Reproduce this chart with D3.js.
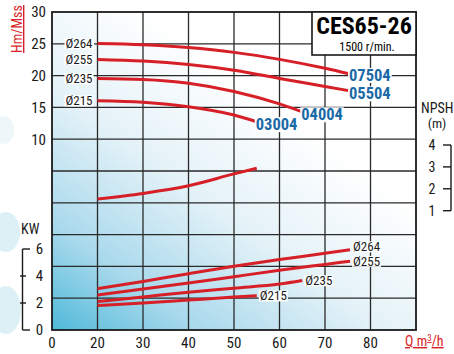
<!DOCTYPE html>
<html><head><meta charset="utf-8">
<script src="https://cdn.jsdelivr.net/npm/d3@7/dist/d3.min.js"></script>
<style>
html,body{margin:0;padding:0;background:#fff;}
svg{display:block;}
</style></head>
<body>
<svg id="chart" width="454" height="354"></svg>
<script>
// ---------- data ----------
const qTickValues = [10, 20, 30, 40, 50, 60, 70, 80];
const qTickLabels = ["0", "20", "30", "40", "50", "60", "70", "80"];
const headTicks = [10, 15, 20, 25, 30];
const kwTicks = [0, 2, 4, 6];
const npshTicks = [1, 2, 3, 4];
const diameters = ["Ø264", "Ø255", "Ø235", "Ø215"];
const models = ["07504", "05504", "04004", "03004"];

// head curves [Q m3/h, H m]
const head264 = [[20,25.05],[30,24.85],[40,24.4],[50,23.65],[60,22.55],[70,21.15],[75.5,20.25]];
const head255 = [[20,22.55],[30,22.3],[40,21.75],[50,20.85],[60,19.55],[70,18.3],[75.5,17.6]];
const head235 = [[20,19.55],[30,19.4],[40,18.8],[50,17.5],[60,15.55],[65,14.3]];
const head215 = [[20,16.05],[30,15.8],[40,15.1],[50,13.8],[55,12.75]];
// NPSH curve [Q, m]
const npsh = [[20,1.53],[30,1.79],[40,2.14],[50,2.68],[55,2.94]];
// power curves [Q, kW]
const power264 = [[20,3.06],[30,3.6],[40,4.17],[50,4.72],[60,5.22],[70,5.68],[75.5,5.95]];
const power255 = [[20,2.59],[30,3.03],[40,3.48],[50,3.95],[60,4.42],[70,4.86],[75.5,5.1]];
const power235 = [[20,2.11],[30,2.45],[40,2.8],[50,3.1],[60,3.4],[65,3.66]];
const power215 = [[20,1.81],[30,2.0],[40,2.22],[50,2.44],[55,2.54]];

const title = "CES65-26";
const subtitle = "1500 r/min.";

// ---------- drawing ----------
const FONT = "'Liberation Sans Narrow','Arial Narrow','Roboto Condensed','DejaVu Sans Condensed','Liberation Sans',sans-serif";
const RED = "#d71f27", BLUE = "#1b6aa6", INK = "#1a1a1a";
const svg = d3.select("#chart");

const x = d3.scaleLinear().domain([10, 90]).range([52, 416]);
const yH = d3.scaleLinear().domain([-20, 30]).range([330, 12]);
const yP = d3.scaleLinear().domain([0, 6]).range([330, 249]);
const yN = d3.scaleLinear().domain([1, 4]).range([210.7, 145]);

const [L, R] = x.range();
const [B, T] = yH.range();

const defs = svg.append("defs");
const grad = defs.append("linearGradient").attr("id", "bg")
  .attr("x1", 0).attr("y1", 1).attr("x2", 0.75).attr("y2", 0.1);
grad.append("stop").attr("offset", 0).attr("stop-color", "#4fb9d9");
grad.append("stop").attr("offset", 0.22).attr("stop-color", "#a9d9ec");
grad.append("stop").attr("offset", 0.5).attr("stop-color", "#e4f2f8");
grad.append("stop").attr("offset", 0.8).attr("stop-color", "#ffffff");
grad.append("stop").attr("offset", 1).attr("stop-color", "#ffffff");

// faint watermark at left
const wm = svg.append("g").attr("fill", "#dcf0f6");
wm.append("ellipse").attr("cx", 6).attr("cy", 232).attr("rx", 14).attr("ry", 20);
wm.append("ellipse").attr("cx", 6).attr("cy", 310).attr("rx", 15).attr("ry", 24);
wm.append("ellipse").attr("cx", 4).attr("cy", 130).attr("rx", 10).attr("ry", 14).attr("opacity", 0.5);

svg.append("rect").attr("x", L).attr("y", T).attr("width", R - L).attr("height", B - T)
  .attr("fill", "url(#bg)");

// grid
const grid = svg.append("g").attr("stroke", "#2a2a2a").attr("stroke-width", 1.3);
grid.selectAll("line.v").data(qTickValues.filter(v => v > x.domain()[0]))
  .join("line").attr("x1", d => x(d)).attr("x2", d => x(d)).attr("y1", T).attr("y2", B);
grid.selectAll("line.h").data(d3.range(-15, 30, 5))
  .join("line").attr("y1", d => yH(d)).attr("y2", d => yH(d)).attr("x1", L).attr("x2", R);

// frame
svg.append("rect").attr("x", L).attr("y", T).attr("width", R - L).attr("height", B - T)
  .attr("fill", "none").attr("stroke", INK).attr("stroke-width", 1.8);

// curves
const lineOf = (ys) => d3.line().x(d => x(d[0])).y(d => ys(d[1])).curve(d3.curveMonotoneX);
const curveG = svg.append("g").attr("fill", "none").attr("stroke", RED)
  .attr("stroke-width", 3).attr("stroke-linecap", "butt");
const headSeries = [head264, head255, head235, head215];
const powerSeries = [power264, power255, power235, power215];
headSeries.forEach(s => curveG.append("path").attr("d", lineOf(yH)(s)));
powerSeries.forEach(s => curveG.append("path").attr("d", lineOf(yP)(s)));
curveG.append("path").attr("d", lineOf(yN)(npsh));

// label helper with white background
function boxed(g, txt, px, py, opts) {
  const t = g.append("text").attr("x", px).attr("y", py)
    .attr("font-family", FONT).attr("font-size", opts.size)
    .attr("font-weight", opts.weight || "normal")
    .attr("fill", opts.color || INK)
    .attr("text-anchor", opts.anchor || "start")
    .attr("dy", "0.36em").text(txt);
  const bb = t.node().getBBox();
  g.insert("rect", () => t.node())
    .attr("x", bb.x - 1).attr("y", bb.y + 2).attr("width", bb.width + 2).attr("height", bb.height - 4)
    .attr("fill", "#fff");
  return t;
}
const lab = svg.append("g");
// diameters at head-curve start
headSeries.forEach((s, i) => boxed(lab, diameters[i], x(s[0][0]) - 5, yH(s[0][1]), {size: 13, anchor: "end"}));
// model codes at head-curve end
headSeries.forEach((s, i) => {
  const e = s[s.length - 1];
  boxed(lab, models[i], x(e[0]) - 1, yH(e[1]) + (i === 0 ? 1 : 2.5), {size: 16.5, weight: "bold", color: BLUE});
});
// diameters at power-curve end
powerSeries.forEach((s, i) => {
  const e = s[s.length - 1];
  boxed(lab, diameters[i], x(e[0]) + 3, yP(e[1]) - (i === 0 ? 3 : 0), {size: 13});
});

// title box
const tb = svg.append("g");
tb.append("rect").attr("x", 312).attr("y", T).attr("width", R - 312).attr("height", 43)
  .attr("fill", "#fff").attr("stroke", INK).attr("stroke-width", 1.6);
tb.append("text").attr("x", 364).attr("y", 33.5).attr("text-anchor", "middle")
  .attr("font-family", FONT).attr("font-weight", "bold").attr("font-size", 24).attr("fill", "#000").text(title);
tb.append("text").attr("x", 367).attr("y", 50.5).attr("text-anchor", "middle")
  .attr("font-family", FONT).attr("font-size", 12).attr("fill", "#000").text(subtitle);

// head axis labels
const ax = svg.append("g").attr("font-family", FONT).attr("fill", INK);
ax.selectAll("text.h").data(headTicks).join("text")
  .attr("x", 46).attr("y", d => yH(d)).attr("dy", "0.36em").attr("text-anchor", "end")
  .attr("font-size", 15).text(d => d);
ax.append("text").attr("transform", "translate(22,29) rotate(-90)").attr("text-anchor", "middle")
  .attr("font-size", 14).attr("fill", RED).attr("text-decoration", "underline").text("Hm/Mss");

// x axis labels
ax.selectAll("text.q").data(qTickValues).join("text")
  .attr("x", d => x(d)).attr("y", 347.5).attr("text-anchor", "middle")
  .attr("font-size", 15).text((d, i) => qTickLabels[i]);
const ql = ax.append("text").attr("x", 405).attr("y", 346).attr("font-size", 14)
  .attr("fill", RED).attr("text-decoration", "underline");
ql.append("tspan").text("Q m");
ql.append("tspan").attr("font-size", 9).attr("dy", -5).text("3");
ql.append("tspan").attr("dy", 5).text("/h");

// KW axis
const kw = svg.append("g").attr("stroke", INK).attr("stroke-width", 1.4);
kw.append("line").attr("x1", 22.5).attr("x2", 22.5).attr("y1", yP(6)).attr("y2", yP(0));
kw.selectAll("line.t").data(kwTicks).join("line")
  .attr("x1", d => (d === 0 || d === 6) ? 22.5 : 20).attr("x2", d => (d === 0 || d === 6) ? 30 : 26)
  .attr("y1", d => yP(d)).attr("y2", d => yP(d));
ax.selectAll("text.k").data(kwTicks).join("text")
  .attr("x", 39.5).attr("y", d => yP(d)).attr("dy", "0.36em").attr("text-anchor", "middle")
  .attr("font-size", 15).text(d => d);
ax.append("text").attr("x", 21).attr("y", 234).attr("font-size", 14).text("KW");

// NPSH axis
const np = svg.append("g").attr("stroke", INK).attr("stroke-width", 1.4);
np.append("line").attr("x1", 451).attr("x2", 451).attr("y1", yN(4)).attr("y2", yN(1));
np.selectAll("line.t").data(npshTicks).join("line")
  .attr("x1", 443).attr("x2", 451).attr("y1", d => yN(d)).attr("y2", d => yN(d));
ax.selectAll("text.n").data(npshTicks).join("text")
  .attr("x", 432).attr("y", d => yN(d)).attr("dy", "0.36em").attr("text-anchor", "middle")
  .attr("font-size", 14).text(d => d);
ax.append("text").attr("x", 421).attr("y", 112.5).attr("font-size", 14).text("NPSH");
ax.append("text").attr("x", 437).attr("y", 128).attr("text-anchor", "middle").attr("font-size", 13.5).text("(m)");
</script>
</body></html>
